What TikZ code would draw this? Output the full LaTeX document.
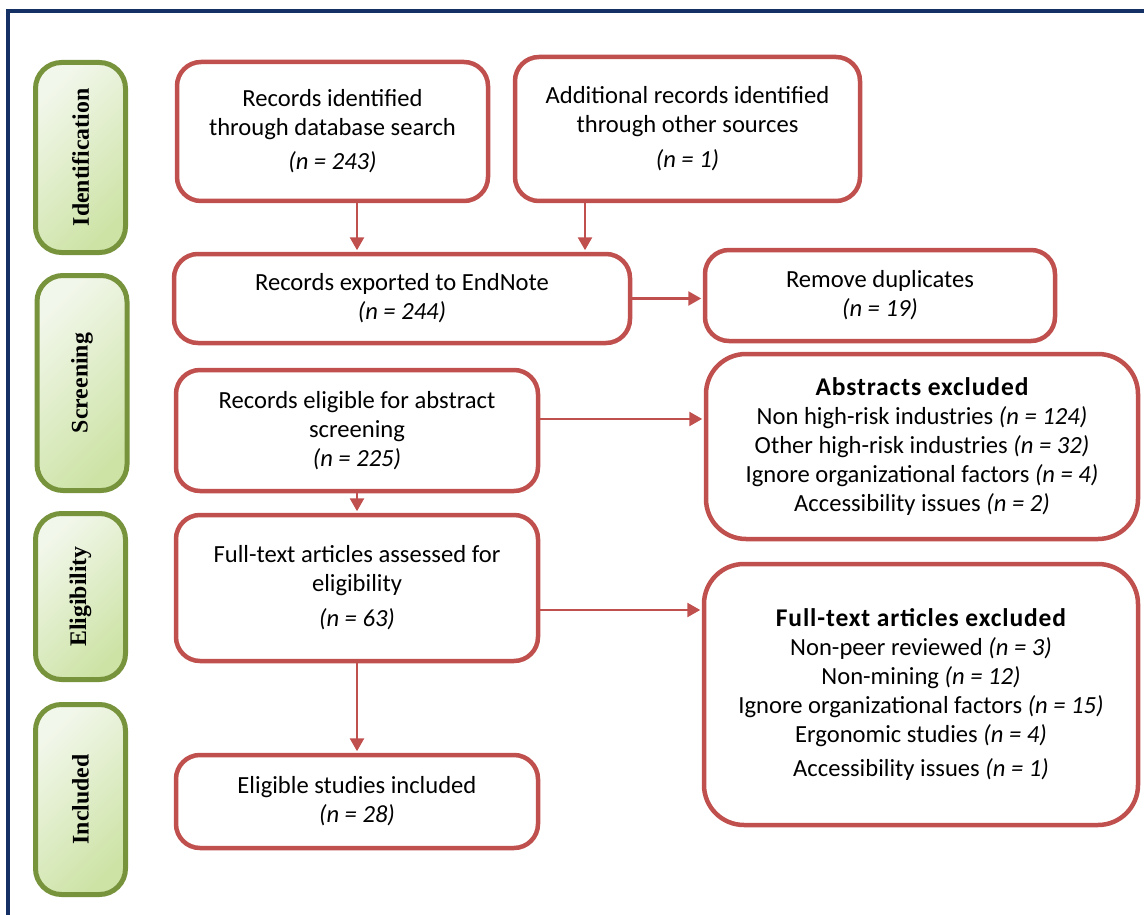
\documentclass[tikz,border=0pt]{standalone}
\usepackage{fontspec}
\setmainfont{Carlito}
\newfontfamily\labelfont{Liberation Serif}
\newfontfamily\headfont[LetterSpace=3.5]{Carlito}
\usetikzlibrary{arrows.meta,calc}
\definecolor{redb}{RGB}{192,80,77}
\definecolor{greenb}{RGB}{119,147,60}
\definecolor{greenl}{RGB}{242,247,235}
\definecolor{greend}{RGB}{205,227,166}
\definecolor{navyb}{RGB}{20,48,100}
\newcommand{\headtxt}[1]{{\headfont\bfseries\fontsize{25.5}{29}\selectfont #1}}
\begin{document}
\begin{tikzpicture}[x=1pt,y=-1pt,
  redbox/.style={draw=redb, line width=4.5pt, rounded corners=24pt, fill=white,
    align=center, inner sep=0pt, font=\fontsize{24.6}{29}\selectfont},
  bigred/.style={redbox, rounded corners=40pt},
  stagebox/.style={draw=greenb, line width=5pt, rounded corners=26pt,
    top color=greenl, bottom color=greend, shading angle=45,
    minimum width=90pt, inner sep=0pt,
    font=\labelfont\bfseries\fontsize{23.8}{26}\selectfont},
  arr/.style={draw=redb, line width=2.6pt, shorten >=1.5pt,
    -{Triangle[width=14pt,length=13pt]}}
]
\useasboundingbox (0,0) rectangle (1144,915);
\begin{scope}
\clip (0,0) rectangle (1144,915);
\draw[navyb, line width=3.5pt] (8,940) -- (8,11) -- (1170,11);
\end{scope}

% stage labels
\node[stagebox, minimum height=190pt] (s1) at (80.5,157.5) {\rotatebox{90}{Identification}};
\node[stagebox, minimum height=215pt] (s2) at (82,383) {\rotatebox{90}{Screening}};
\node[stagebox, minimum height=166pt] (s3) at (80.5,596.5) {\rotatebox{90}{Eligibility}};
\node[stagebox, minimum height=190pt] (s4) at (80.5,799.5) {\rotatebox{90}{Included}};

% flow boxes
\node[redbox, minimum width=311pt, minimum height=139pt] (A) at (332.5,131.5)
  {Records identified\\ through database search\\[5pt] \textit{(n = 243)}};
\node[redbox, minimum width=345pt, minimum height=144pt] (B) at (687.5,129)
  {Additional records identified\\ through other sources\\[6pt] \textit{(n = 1)}};
\node[redbox, minimum width=456pt, minimum height=89pt] (C) at (402,298.5)
  {Records exported to EndNote\\ \textit{(n = 244)}};
\node[redbox, minimum width=350pt, minimum height=91pt] (D) at (880,295.5)
  {Remove duplicates\\ \textit{(n = 19)}};
\node[redbox, minimum width=362pt, minimum height=121pt] (E) at (357,430.5)
  {Records eligible for abstract\\ screening\\ \textit{(n = 225)}};
\node[bigred, minimum width=432pt, minimum height=185pt] (F) at (922,446.5)
  {\headtxt{Abstracts excluded}\\
   Non high-risk industries \textit{(n = 124)}\\
   Other high-risk industries \textit{(n = 32)}\\
   Ignore organizational factors \textit{(n = 4)}\\
   Accessibility issues \textit{(n = 2)}};
\node[redbox, minimum width=362pt, minimum height=146pt] (G) at (357,588)
  {Full-text articles assessed for\\ eligibility\\[6pt] \textit{(n = 63)}};
\node[bigred, minimum width=434pt, minimum height=261pt] (H) at (921,694.5)
  {\headtxt{Full-text articles excluded}\\
   Non-peer reviewed \textit{(n = 3)}\\
   Non-mining \textit{(n = 12)}\\
   Ignore organizational factors \textit{(n = 15)}\\
   Ergonomic studies \textit{(n = 4)}\\[5pt]
   Accessibility issues \textit{(n = 1)}};
\node[redbox, minimum width=362pt, minimum height=93pt] (I) at (357,801.5)
  {Eligible studies included\\ \textit{(n = 28)}};

% connectors
\coordinate (bc) at (585,0);
\coordinate (ef) at (0,419);
\coordinate (gh) at (0,610);
\draw[arr] (A.south -| E.center) -- (C.north -| E.center);
\draw[arr] (B.south -| bc) -- (C.north -| bc);
\draw[arr] (C.east) -- (C.east -| D.west);
\draw[arr] (E.east |- ef) -- (F.west |- ef);
\draw[arr] (E.south) -- (G.north);
\draw[arr] (G.east |- gh) -- (H.west |- gh);
\draw[arr] (G.south) -- (I.north);
\end{tikzpicture}
\end{document}
